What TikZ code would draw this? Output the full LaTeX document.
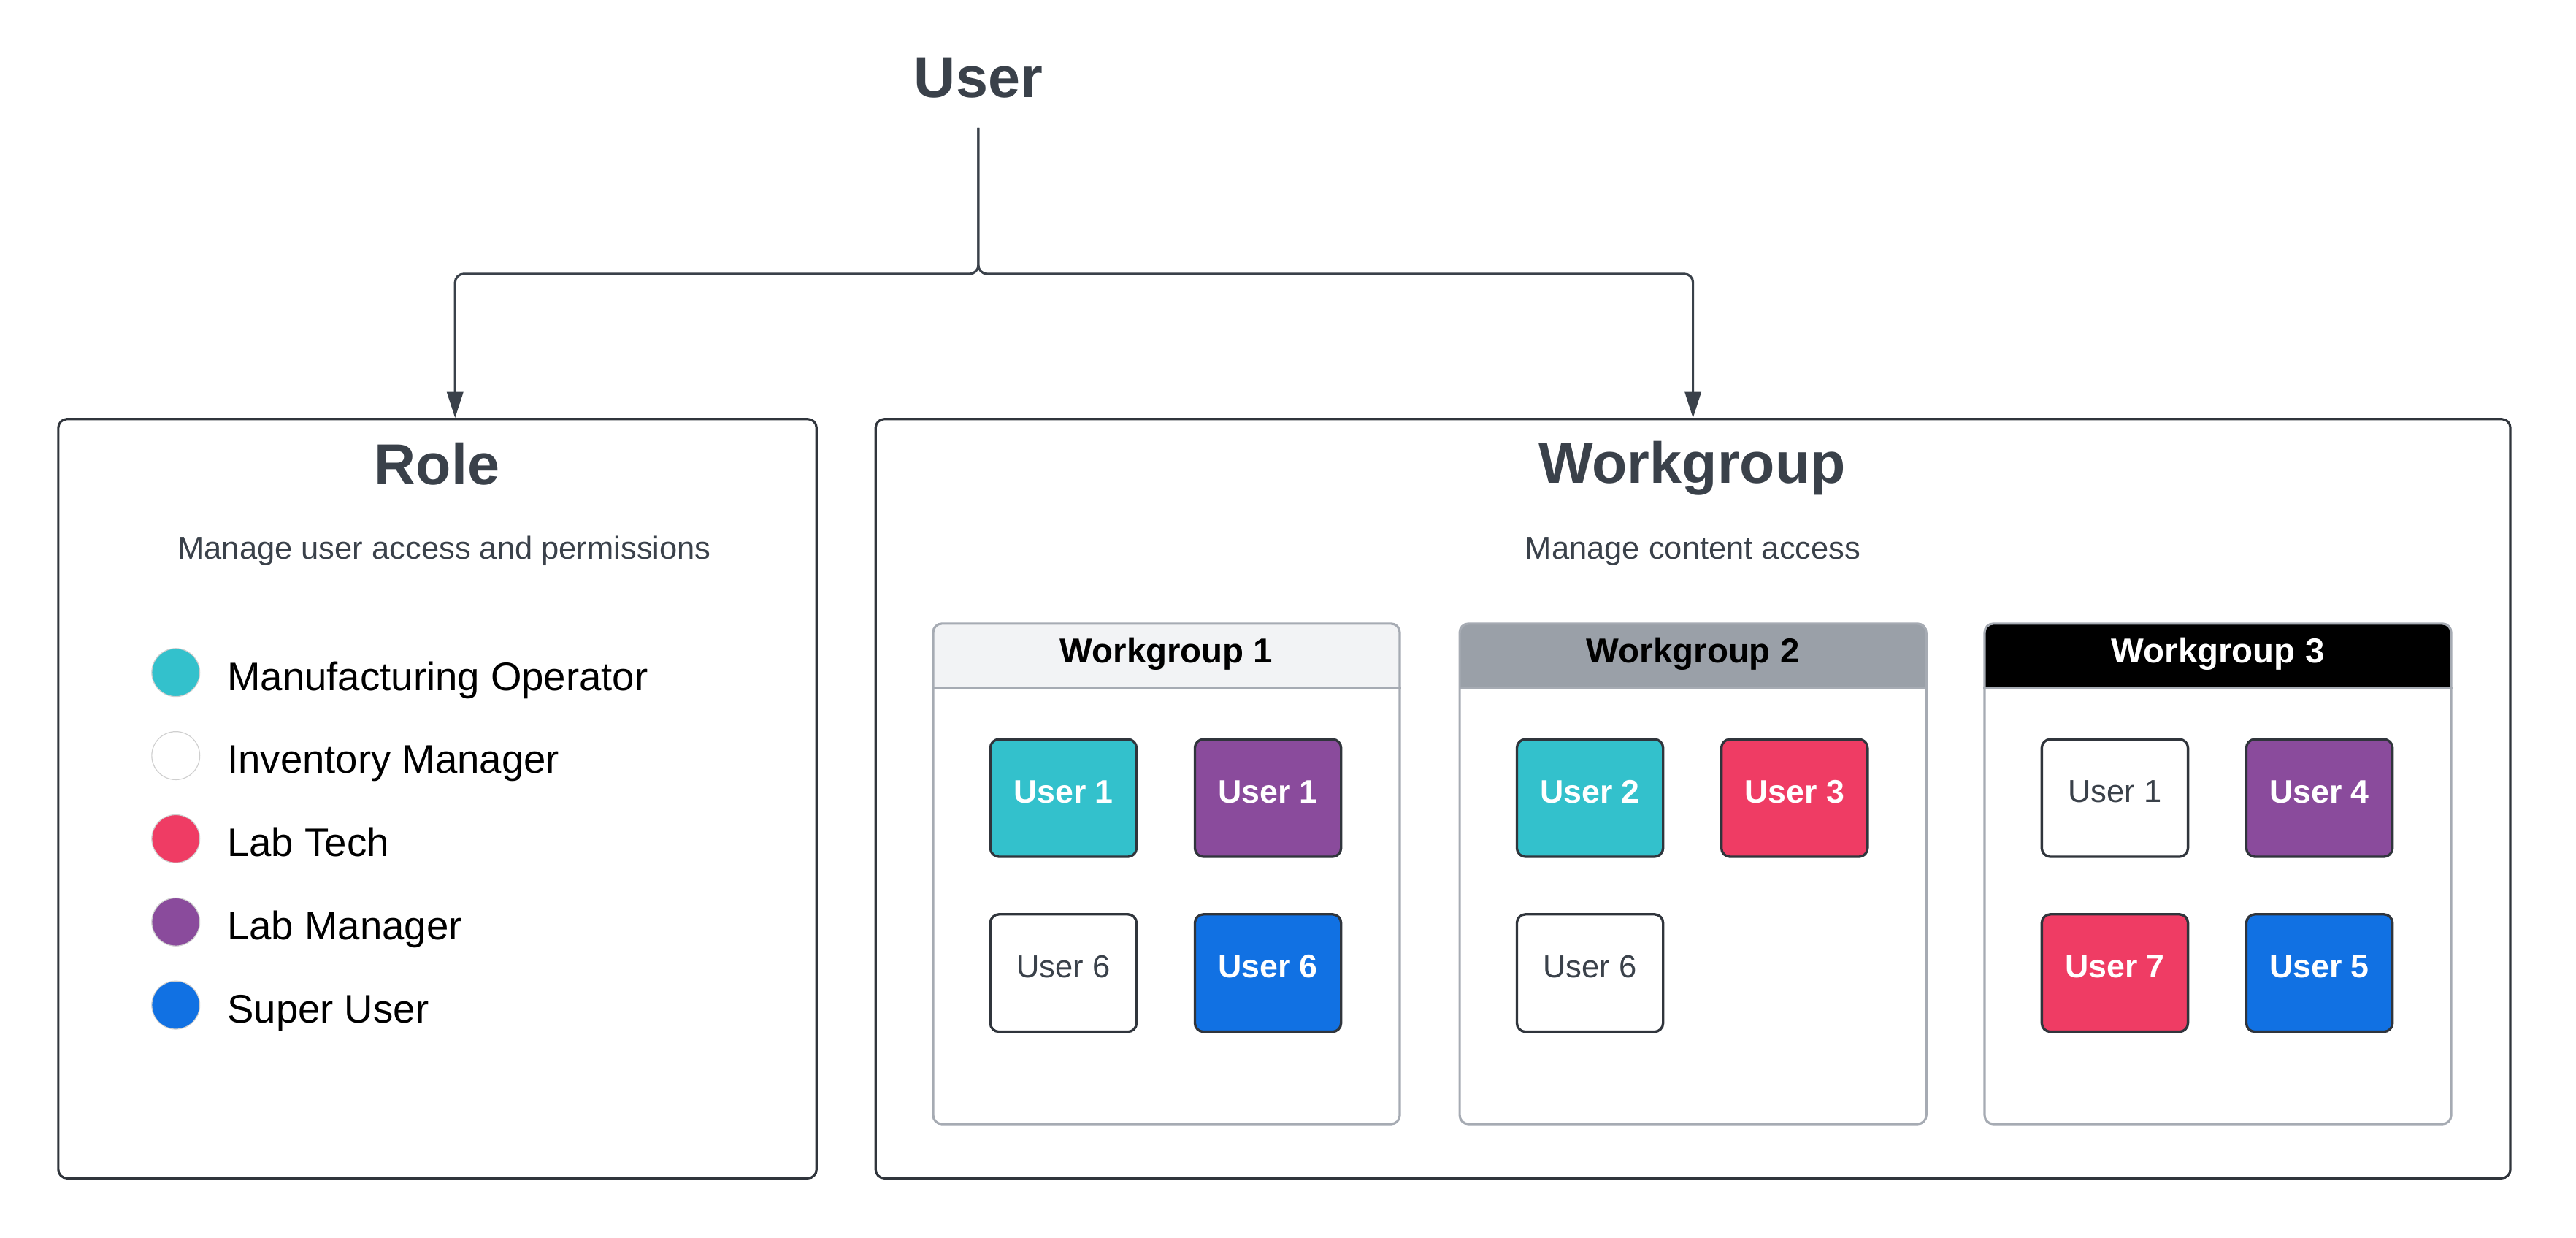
\documentclass[tikz,border=0pt]{standalone}
\usepackage{fontspec}
\setmainfont{Liberation Sans}
\usetikzlibrary{arrows.meta, positioning, calc}
\definecolor{ink}{HTML}{3A414A}
\definecolor{frame}{HTML}{30353C}
\definecolor{mfg}{HTML}{33C1CC}
\definecolor{labtech}{HTML}{EF3C64}
\definecolor{labmgr}{HTML}{8A4B9C}
\definecolor{superu}{HTML}{1171E3}
\definecolor{hdlight}{HTML}{F2F3F5}
\definecolor{hdgrey}{HTML}{9AA0A8}
\definecolor{grpline}{HTML}{A6ABB3}
\definecolor{ring}{HTML}{CFCFCF}
\tikzset{
>={Triangle[length=9pt,width=5.6pt]},
title/.style={font=\bfseries\fontsize{20}{24}\selectfont, text=ink, anchor=base},
subtitle/.style={font=\fontsize{11}{13}\selectfont, text=ink, anchor=base},
outerbox/.style={draw=frame, line width=0.8pt, rounded corners=3pt, minimum height=9.24cm},
link/.style={->, draw=ink, line width=0.8pt, rounded corners=3pt},
dot/.style={circle, fill=#1, draw=ring, line width=0.3pt, minimum size=0.585cm, inner sep=0pt},
legendtext/.style={font=\fontsize{13.8}{16}\selectfont, anchor=base west, inner sep=0pt},
grpbox/.style={draw=grpline, line width=0.8pt, rounded corners=3pt, minimum width=5.68cm, minimum height=6.09cm},
grptitle/.style={font=\bfseries\fontsize{12}{14}\selectfont, anchor=base},
ubox/.style={%
    draw=frame, fill=#1, line width=0.85pt, rounded corners=3pt,
    minimum width=1.78cm, minimum height=1.43cm, text depth=4.5pt,
    text=white, font=\bfseries\fontsize{11.3}{13}\selectfont
},
ublank/.style={ubox=white, text=ink, font=\fontsize{11}{13}\selectfont},
}

\begin{document}
\begin{tikzpicture}
\useasboundingbox (0,0) rectangle (31.36,-15.058);

\node[title, inner sep=10pt] (user) at (11.91,-1.19) {User};
\node[outerbox, minimum width=9.23cm] (role) at (5.325,-9.72) {};
\node[outerbox, minimum width=19.9cm] (wgroup) at (20.61,-9.72) {};

% connectors
\coordinate (fork) at ($(user.south)+(0,-1.777)$);
\draw[link] (user.south) -- (fork) -| ([xshift=0.215cm]role.north);
\draw[link] (user.south) -- (fork) -| (wgroup.north);

\node[title] (roletitle) at (5.32,-5.90) {Role};
\node[subtitle] (rolesub) at (5.41,-6.80) {Manage user access and permissions};
\node[title] (wgtitle) at (20.6,-5.88) {Workgroup};
\node[subtitle] (wgsub) at (20.61,-6.80) {Manage content access};

% legend
\foreach \c/\name [count=\k] in {mfg/Manufacturing Operator, white/Inventory Manager, labtech/Lab Tech, labmgr/Lab Manager, superu/Super User}{
    \node[dot=\c] (dot\k) at (2.14,{-7.172-1.012*\k}) {};
    \node[legendtext] (rolename\k) at (2.76,{-7.388-1.012*\k}) {\name};
}

% workgroups
\foreach \i/\x/\hc/\tc in {1/11.36/hdlight/black, 2/17.77/hdgrey/black, 3/24.16/black/white}{
    \begin{scope}
        \clip[rounded corners=3pt] (\x,-7.59) rectangle ++(5.68,-6.09);
        \fill[\hc] (\x,-7.59) rectangle ++(5.68,-0.79);
    \end{scope}
    \node[grpbox] (grp\i) at (\x+2.84,-10.635) {};
    \draw[grpline, line width=0.8pt] ($(grp\i.north west)+(0,-0.79)$) -- ($(grp\i.north east)+(0,-0.79)$);
    \node[grptitle, text=\tc] (grp\i-head) at (\x+2.84,-8.07) {Workgroup \i};
}

% users
\foreach \g/\s/\cx/\cy/\fc/\lbl in {1/a/1.6/-2.136/mfg/User 1, 1/b/4.09/-2.136/labmgr/User 1, 1/d/4.09/-4.266/superu/User 6, 2/a/1.6/-2.136/mfg/User 2, 2/b/4.09/-2.136/labtech/User 3, 3/b/4.09/-2.136/labmgr/User 4, 3/c/1.6/-4.266/labtech/User 7, 3/d/4.09/-4.266/superu/User 5}
    \node[ubox=\fc] (grp\g\s) at ($(grp\g.north west)+(\cx,\cy)$) {\lbl};
\foreach \g/\s/\cx/\cy/\lbl in {1/c/1.6/-4.266/User 6, 2/c/1.6/-4.266/User 6, 3/a/1.6/-2.136/User 1}
    \node[ublank] (grp\g\s) at ($(grp\g.north west)+(\cx,\cy)$) {\lbl};

\end{tikzpicture}
\end{document}
